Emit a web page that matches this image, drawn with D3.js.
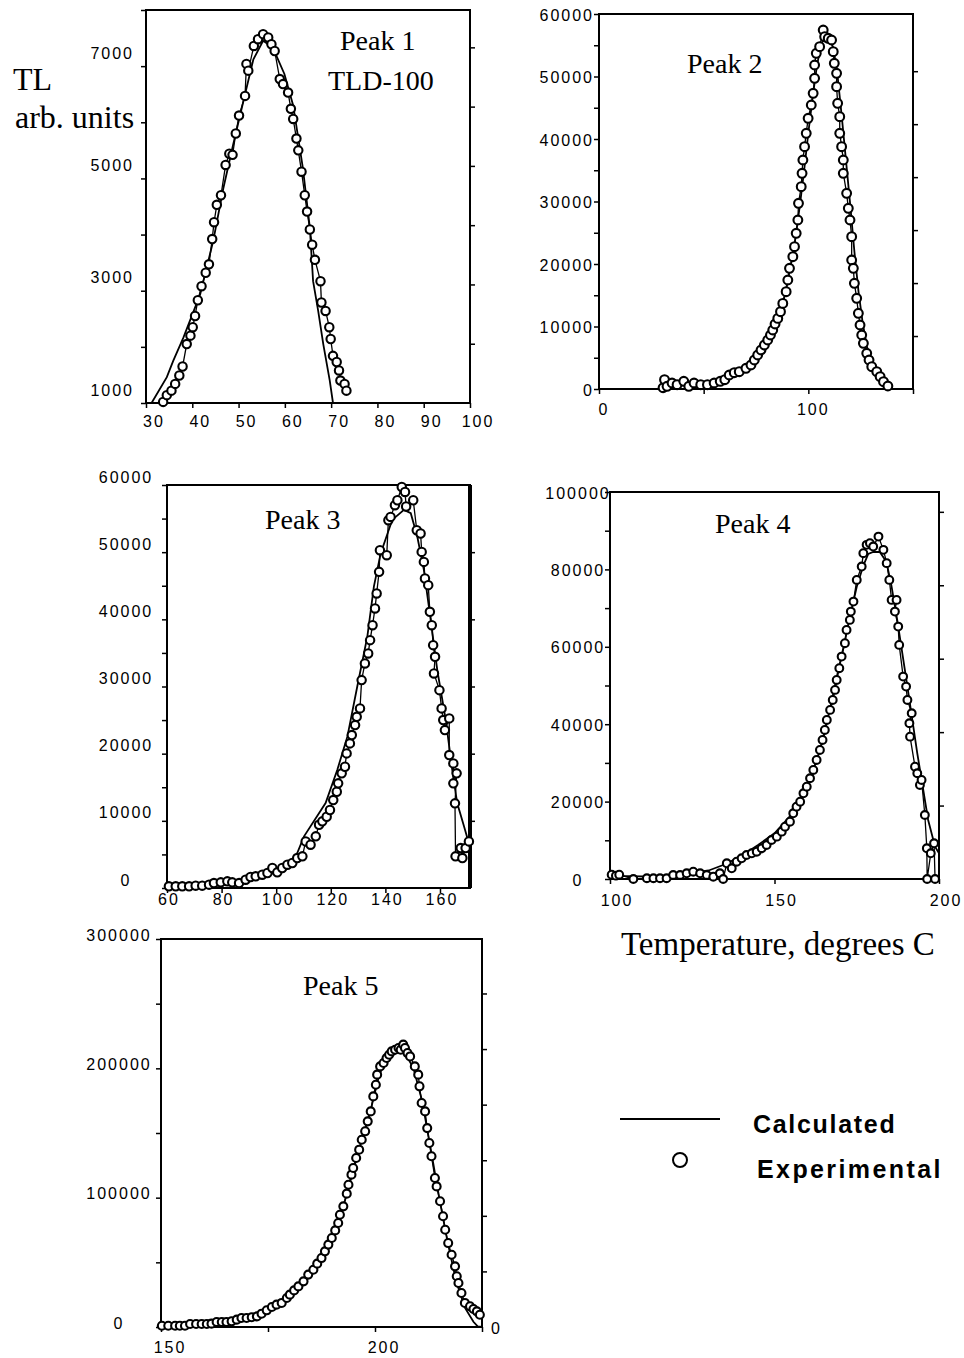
<!DOCTYPE html>
<html>
<head>
<meta charset="utf-8">
<script src="https://cdn.jsdelivr.net/npm/d3@7"></script>
<style>
  body { margin: 0; background: #fff; }
  .tick-label { font-family: 'Liberation Sans', Arial, sans-serif; font-size: 16px; letter-spacing: 2px; fill: #000; }
  .serif { font-family: 'Liberation Serif', 'Times New Roman', serif; fill: #000; }
  .legend { font-family: 'Liberation Sans', Arial, sans-serif; font-weight: bold; font-size: 25px; fill: #000; }
</style>
</head>
<body>
<svg id="canvas" width="964" height="1358"></svg>
<script>
// Peak 1 (TLD-100)
let p1ExpT = [33.7,34.5,35.5,36.3,37.2,37.9,38.8,39.6,40.1,40.6,41.2,42.0,42.9,43.6,44.3,44.7,45.3,46.2,47.2,48.0,48.7,49.4,50.1,51.4,51.7,52.1,53.3,54.2,55.3,56.4,57.1,57.8,58.9,59.6,60.7,61.3,61.8,62.5,62.9,63.6,64.3,64.8,65.4,65.9,66.5,67.7,67.9,68.8,69.6,69.9,70.4,71.2,71.7,72.0,72.9,73.3];
let p1ExpTL = [1020,1140,1220,1340,1490,1650,2050,2200,2350,2550,2830,3080,3320,3470,3920,4220,4530,4700,5240,5440,5420,5800,6120,6470,7040,6920,7360,7480,7570,7510,7390,7270,6770,6680,6530,6240,6060,5710,5500,5120,4700,4410,4090,3820,3550,3170,2790,2640,2350,2140,1840,1730,1580,1400,1340,1220];
let p1CalcT = [31.2,34.5,35.9,38.1,41.7,44.5,46.7,48.8,51.0,53.2,55.3,57.4,59.9,61.8,63.9,65.4,66.1,67.2,68.3,69.7,70.4];
let p1CalcTL = [1000,1460,1755,2170,2935,3880,4820,5590,6360,7120,7450,7330,6860,6300,5180,4120,3170,2640,2050,1400,1000];

// Peak 2
let p2ExpT = [30.6,31.3,32.5,34.9,37.3,40.5,42.9,45.4,48.6,51.8,55.0,57.9,60.1,62.2,64.6,67.0,70.2,72.6,74.2,75.8,77.4,79.0,80.6,81.9,83.0,84.1,85.4,86.7,87.8,89.4,90.2,91.0,92.6,93.4,94.2,95.0,95.3,96.6,97.0,97.4,98.2,99.0,99.9,101.4,102.3,103.0,103.0,103.8,105.4,107.1,107.8,109.5,111.1,111.9,112.4,113.5,113.5,114.0,115.0,115.0,115.9,116.7,116.7,118.3,119.1,119.9,120.7,120.7,121.5,122.0,123.1,123.9,124.7,125.5,126.3,127.9,129.0,130.3,132.7,134.3,135.9,138.0];
let p2ExpTL = [200,1490,430,960,690,1230,430,960,690,690,960,1230,1490,2240,2610,2770,3310,3840,4640,5440,6240,7040,7840,8640,9440,10400,11300,12370,13700,15570,17440,19310,21170,22770,24910,27040,29710,32370,34510,36640,38770,40910,43310,45440,47310,49710,51840,53710,54770,57440,56370,56110,55840,53970,52110,50510,48370,45710,43570,40910,38770,36640,34510,31310,28910,27040,24370,20640,19310,16910,14510,12110,10240,8640,7310,5710,4640,3570,2770,1970,1170,480];
let p2CalcT = [30,40,50,60,65,70,75,80,85,88,90,92,94,96,98,100,102,104,106,108,110,112,114,116,118,120,122,124,126,128,130,133,136,140];
let p2CalcTL = [500,700,900,1500,2200,3300,5000,7500,11000,14000,17000,20500,24500,29500,35000,41000,46500,51500,55000,56500,56300,54500,50000,43500,36500,29500,22000,15500,10500,6800,4200,2000,700,0];

// Peak 3
let p3ExpT = [60.7,63.2,65.6,68.1,70.5,72.9,75.4,77.2,79.7,82.1,83.9,86.4,88.8,90.6,92.5,94.9,96.8,98.6,100.4,102.2,104.1,105.9,107.7,109.6,110.8,112.6,114.5,115.7,116.9,118.5,119.7,120.9,122.2,122.7,124.0,125.2,125.8,127.0,127.7,128.9,129.5,130.7,131.3,132.5,133.7,134.4,135.3,136.2,136.8,137.7,138.0,140.5,141.1,141.9,143.5,144.4,146.0,147.2,147.6,150.2,151.5,152.9,153.3,154.1,154.5,155.7,156.3,157.0,157.5,158.2,157.8,159.8,160.6,161.2,161.8,163.4,163.4,164.9,164.9,166.1,165.5,165.7,167.6,168.2,169.4,170.6];
let p3ExpTL = [250,250,250,250,350,350,500,740,840,990,840,740,1240,1640,1740,1980,2230,2980,2330,2980,3470,3720,4460,4710,6940,6450,7690,9420,9920,10610,11610,13090,14330,15580,17070,18050,20040,21530,22770,24250,25490,26740,30950,33430,34920,36900,39130,41620,43850,47070,50290,49550,54760,55250,56990,57730,59710,58970,56800,57730,53270,52780,50040,48550,46080,45090,41120,39130,36160,34420,31940,29460,26740,25000,23510,25250,19790,18550,15580,17070,12600,4710,5950,4460,5950,6940];
let p3CalcT = [60,72,86,97,103.5,107,110.2,118.1,122.4,126.1,129.7,133.4,135.8,138.3,142.5,146.8,149.3,151.7,154.1,156.6,159.0,162.1,164.5,166.3,168.8,170.4];
let p3CalcTL = [150,250,740,2000,2730,4500,7690,12650,17600,22570,30000,37450,44900,49850,54800,56300,55800,52300,47370,39930,32490,25050,17600,12650,9180,6940];

// Peak 4
let p4ExpT = [100.5,101.8,102.8,107.1,111.2,113.2,115.2,117.2,119.2,121.3,123.3,125.3,127.4,129.4,131.4,133.4,134.4,135.5,137.0,138.5,140.0,141.5,143.1,144.6,146.1,147.6,149.1,150.7,152.2,153.2,154.7,155.7,156.7,157.8,158.8,159.8,160.8,161.8,162.8,163.8,164.6,165.3,165.9,166.9,167.7,168.4,168.9,169.7,170.4,171.4,171.9,172.9,173.2,174.0,175.0,176.5,177.0,178.0,179.0,180.0,181.6,183.1,184.1,184.9,185.6,187.1,186.6,187.6,187.9,189.1,190.0,190.4,191.7,191.0,191.2,192.7,193.4,194.2,194.7,195.7,196.3,196.4,197.5,198.5,198.8];
let p4ExpTL = [1120,870,1120,0,200,200,200,200,1030,1030,1470,1890,1470,1030,590,1470,0,4060,2770,4470,5350,6200,6640,7060,7940,8790,10080,10940,12230,13520,14810,16980,18690,19980,22150,23860,26030,28180,30760,33350,35930,38520,41100,43690,46270,48860,51440,54470,57470,60930,64370,66950,69100,71680,77290,80730,84190,86340,86780,85900,88480,85050,81610,77290,72120,72120,69100,65220,60490,52300,49710,46270,42830,40250,36780,29030,27320,24300,25590,16540,7940,0,6640,9230,0];
let p4CalcT = [100,110,120,130,135,140,145,150,155,160,163,165,167,169,171,173,175,177,178.5,180,182,184,185.5,187.3,190.4,193.4,196.7,198.8,200];
let p4CalcTL = [800,700,1000,2200,3800,6000,8800,11800,16500,24500,31000,37000,44500,52500,60000,68000,75500,81000,84000,84500,84500,82000,76000,66950,49710,32490,15250,8350,6640];

// Peak 5
let p5ExpT = [150.2,151.7,153.3,154.4,155.6,156.8,158.2,159.5,160.7,161.8,163.0,164.2,165.3,166.5,167.7,168.8,170.0,171.2,172.4,173.5,174.7,175.9,177.0,178.2,179.4,180.1,181.1,182.1,183.3,184.4,185.6,186.5,187.5,188.3,189.1,189.9,190.7,191.4,191.8,192.6,193.4,193.8,194.5,194.9,195.6,196.3,196.9,197.7,198.3,199.0,199.6,200.2,200.5,201.2,202.0,202.7,203.3,203.9,204.7,205.5,206.0,206.6,207.0,207.6,208.2,209.3,210.1,210.4,210.9,211.7,212.2,212.7,213.2,214.0,214.4,215.2,215.9,216.4,217.1,217.9,218.7,219.1,219.5,220.2,221.0,222.2,223.0,223.8,224.5];
let p5ExpTL = [1000,1000,1000,1000,1000,2300,2300,2300,2300,2600,3900,3900,3900,4400,5700,7000,7000,7500,8200,10300,12900,15500,17300,18600,22400,25000,28300,31400,35300,40500,44300,49000,53300,58500,63700,68800,74700,80400,86800,93300,103100,110000,117800,122900,130700,137100,144800,151300,159000,166700,178300,187300,195100,201500,204100,208000,210500,213100,214400,215700,214400,218300,215700,211800,209200,201500,195100,186100,173200,166700,153800,142300,132000,115200,108700,97200,85600,75200,64900,55900,46900,39200,34000,26300,18600,16000,13900,12100,9500];
let p5CalcT = [150,160,165,170,175,180,185,190,193,195,197,199,201,203,205,207,209,211,213,215,217,219,221,223,224,225];
let p5CalcTL = [0,1500,3000,6000,12000,23000,42000,72000,98000,122000,146000,168000,195000,210000,215000,212000,200000,175000,138000,100000,65000,35000,15000,4000,500,0];

// tick values and tick labels
let p1YTicks = d3.range(1000, 8001, 1000);
let p1YLabels = [1000, 3000, 5000, 7000];
let p1XTicks = d3.range(30, 101, 10);
let p1XLabels = [30, 40, 50, 60, 70, 80, 90, 100];

let p2YTicks = d3.range(0, 60001, 5000);
let p2YLabels = [0, 10000, 20000, 30000, 40000, 50000, 60000];
let p2XTicks = [0, 50, 100, 150];
let p2XLabels = [0, 100];

let p3YTicks = d3.range(0, 60001, 5000);
let p3YLabels = [0, 10000, 20000, 30000, 40000, 50000, 60000];
let p3XTicks = [60, 80, 100, 120, 140, 160];
let p3XLabels = [60, 80, 100, 120, 140, 160];

let p4YTicks = d3.range(0, 100001, 10000);
let p4YLabels = [0, 20000, 40000, 60000, 80000, 100000];
let p4XTicks = [100, 150, 200];
let p4XLabels = [100, 150, 200];

let p5YTicks = d3.range(0, 300001, 50000);
let p5YLabels = [0, 100000, 200000, 300000];
let p5XTicks = [150, 175, 200, 225];
let p5XLabels = [150, 200];

let svg = d3.select('#canvas');

let zip = (a, b) => a.map((v, i) => [v, b[i]]);

let panels = [
  { exp: zip(p1ExpT, p1ExpTL), calc: zip(p1CalcT, p1CalcTL), xDomain: [30, 100], yDomain: [1000, 8000],
    box: [146, 10, 470, 403], yTicks: p1YTicks, yLabels: p1YLabels, yLabelX: 134, yAnchor: 'end', yDy: -13,
    xTicks: p1XTicks, xLabels: p1XLabels, xLabelY: 421, xDx: 8, rightMax: 6.63, r: 4.2 },
  { exp: zip(p2ExpT, p2ExpTL), calc: zip(p2CalcT, p2CalcTL), xDomain: [0, 150], yDomain: [0, 60000],
    box: [599, 14, 913, 389], yTicks: p2YTicks, yLabels: p2YLabels, yLabelX: 594, yAnchor: 'end', yDy: 1,
    xTicks: p2XTicks, xLabels: p2XLabels, xLabelY: 409, xDx: 5, rightMax: 7.08, r: 4.4 },
  { exp: zip(p3ExpT, p3ExpTL), calc: zip(p3CalcT, p3CalcTL), xDomain: [60, 171], yDomain: [0, 60000],
    box: [167, 485, 470, 888], yTicks: p3YTicks, yLabels: p3YLabels, yLabelX: 126, yAnchor: 'middle', yDy: -8,
    xTicks: p3XTicks, xLabels: p3XLabels, xLabelY: 899, xDx: 2, rightTicksMain: [10000, 20000, 30000, 40000, 50000], thickRight: true, r: 4.2 },
  { exp: zip(p4ExpT, p4ExpTL), calc: zip(p4CalcT, p4CalcTL), xDomain: [100, 200], yDomain: [0, 100000],
    box: [610, 492, 939, 879], yTicks: p4YTicks, yLabels: p4YLabels, yLabelX: 578, yAnchor: 'middle', yDy: 1,
    xTicks: p4XTicks, xLabels: p4XLabels, xLabelY: 900, xDx: 7, rightMax: 5.27, r: 3.9 },
  { exp: zip(p5ExpT, p5ExpTL), calc: zip(p5CalcT, p5CalcTL), xDomain: [150, 225], yDomain: [0, 300000],
    box: [161, 939, 482, 1327], yTicks: p5YTicks, yLabels: p5YLabels, yLabelX: 119, yAnchor: 'middle', yDy: -4,
    xTicks: p5XTicks, xLabels: p5XLabels, xLabelY: 1347, xDx: 9, rightMax: 6.98, rightZero: true, r: 4 }
];

let drawPanel = (p) => {
  let [left, top, right, bottom] = p.box;
  let x = d3.scaleLinear().domain(p.xDomain).range([left, right]);
  let y = d3.scaleLinear().domain(p.yDomain).range([bottom, top]);
  let g = svg.append('g');

  // frame
  g.append('rect')
    .attr('x', left).attr('y', top)
    .attr('width', right - left).attr('height', bottom - top)
    .attr('fill', 'none').attr('stroke', '#000').attr('stroke-width', 2);
  if (p.thickRight) {
    g.append('line').attr('x1', right).attr('x2', right).attr('y1', top).attr('y2', bottom)
      .attr('stroke', '#000').attr('stroke-width', 4);
  }

  // left ticks
  g.append('g').attr('transform', 'translate(' + left + ',0)')
    .call(d3.axisLeft(y).tickValues(p.yTicks).tickSize(5).tickFormat(''))
    .call(a => a.select('.domain').remove())
    .call(a => a.selectAll('line').attr('stroke-width', 1.5));

  // bottom ticks
  g.append('g').attr('transform', 'translate(0,' + bottom + ')')
    .call(d3.axisBottom(x).tickValues(p.xTicks).tickSize(5).tickFormat(''))
    .call(a => a.select('.domain').remove())
    .call(a => a.selectAll('line').attr('stroke-width', 1.5));

  // right ticks
  let rightAxis;
  if (p.rightTicksMain) {
    rightAxis = d3.axisRight(y).tickValues(p.rightTicksMain);
  } else {
    let yr = d3.scaleLinear().domain([0, p.rightMax]).range([bottom, top]);
    rightAxis = d3.axisRight(yr).tickValues(d3.range(1, Math.floor(p.rightMax) + 1).filter(v => v < p.rightMax - 0.1));
  }
  g.append('g').attr('transform', 'translate(' + right + ',0)')
    .call(rightAxis.tickSize(5).tickFormat(''))
    .call(a => a.select('.domain').remove())
    .call(a => a.selectAll('line').attr('stroke-width', 1.5));

  // tick labels
  g.append('g').selectAll('text').data(p.yLabels).enter().append('text')
    .attr('class', 'tick-label')
    .attr('x', p.yLabelX)
    .attr('y', d => y(d) + p.yDy)
    .attr('dominant-baseline', 'central')
    .attr('text-anchor', p.yAnchor)
    .text(d => d);

  g.append('g').selectAll('text').data(p.xLabels).enter().append('text')
    .attr('class', 'tick-label')
    .attr('x', d => x(d) + p.xDx)
    .attr('y', p.xLabelY)
    .attr('dominant-baseline', 'central')
    .attr('text-anchor', 'middle')
    .text(d => d);

  if (p.rightZero) {
    g.append('text').attr('class', 'tick-label')
      .attr('x', right + 9).attr('y', y(0) + 1)
      .attr('dominant-baseline', 'central')
      .text(0);
  }

  let line = d3.line().x(d => x(d[0])).y(d => y(d[1]));

  // calculated curve
  g.append('path').datum(p.calc)
    .attr('d', line)
    .attr('fill', 'none').attr('stroke', '#000').attr('stroke-width', 1.8);

  // experimental: joined points
  g.append('path').datum(p.exp)
    .attr('d', line)
    .attr('fill', 'none').attr('stroke', '#000').attr('stroke-width', 1.3);

  g.append('g').selectAll('circle').data(p.exp).enter().append('circle')
    .attr('cx', d => x(d[0]))
    .attr('cy', d => y(d[1]))
    .attr('r', p.r)
    .attr('fill', '#fff')
    .attr('stroke', '#000')
    .attr('stroke-width', 2.1);
};

panels.forEach(drawPanel);

// titles
let titles = [
  ['Peak 1', 340, 50], ['TLD-100', 328, 90], ['Peak 2', 687, 73],
  ['Peak 3', 265, 529], ['Peak 4', 715, 533], ['Peak 5', 303, 995]
];
svg.selectAll('.title').data(titles).enter().append('text')
  .attr('class', 'serif title')
  .attr('x', d => d[1]).attr('y', d => d[2])
  .attr('font-size', 28)
  .text(d => d[0]);

svg.append('text').attr('class', 'serif').attr('x', 13).attr('y', 90).attr('font-size', 32).text('TL');
svg.append('text').attr('class', 'serif').attr('x', 15).attr('y', 128).attr('font-size', 32).text('arb. units');
svg.append('text').attr('class', 'serif').attr('x', 621).attr('y', 955).attr('font-size', 33).text('Temperature, degrees C');

// legend
svg.append('line').attr('x1', 620).attr('x2', 720).attr('y1', 1119).attr('y2', 1119)
  .attr('stroke', '#000').attr('stroke-width', 2);
svg.append('text').attr('class', 'legend').attr('x', 753).attr('y', 1133)
  .style('letter-spacing', '1.7px').text('Calculated');
svg.append('circle').attr('cx', 680).attr('cy', 1160).attr('r', 7)
  .attr('fill', '#fff').attr('stroke', '#000').attr('stroke-width', 2);
svg.append('text').attr('class', 'legend').attr('x', 757).attr('y', 1178)
  .style('letter-spacing', '2.4px').text('Experimental');
</script>
</body>
</html>
